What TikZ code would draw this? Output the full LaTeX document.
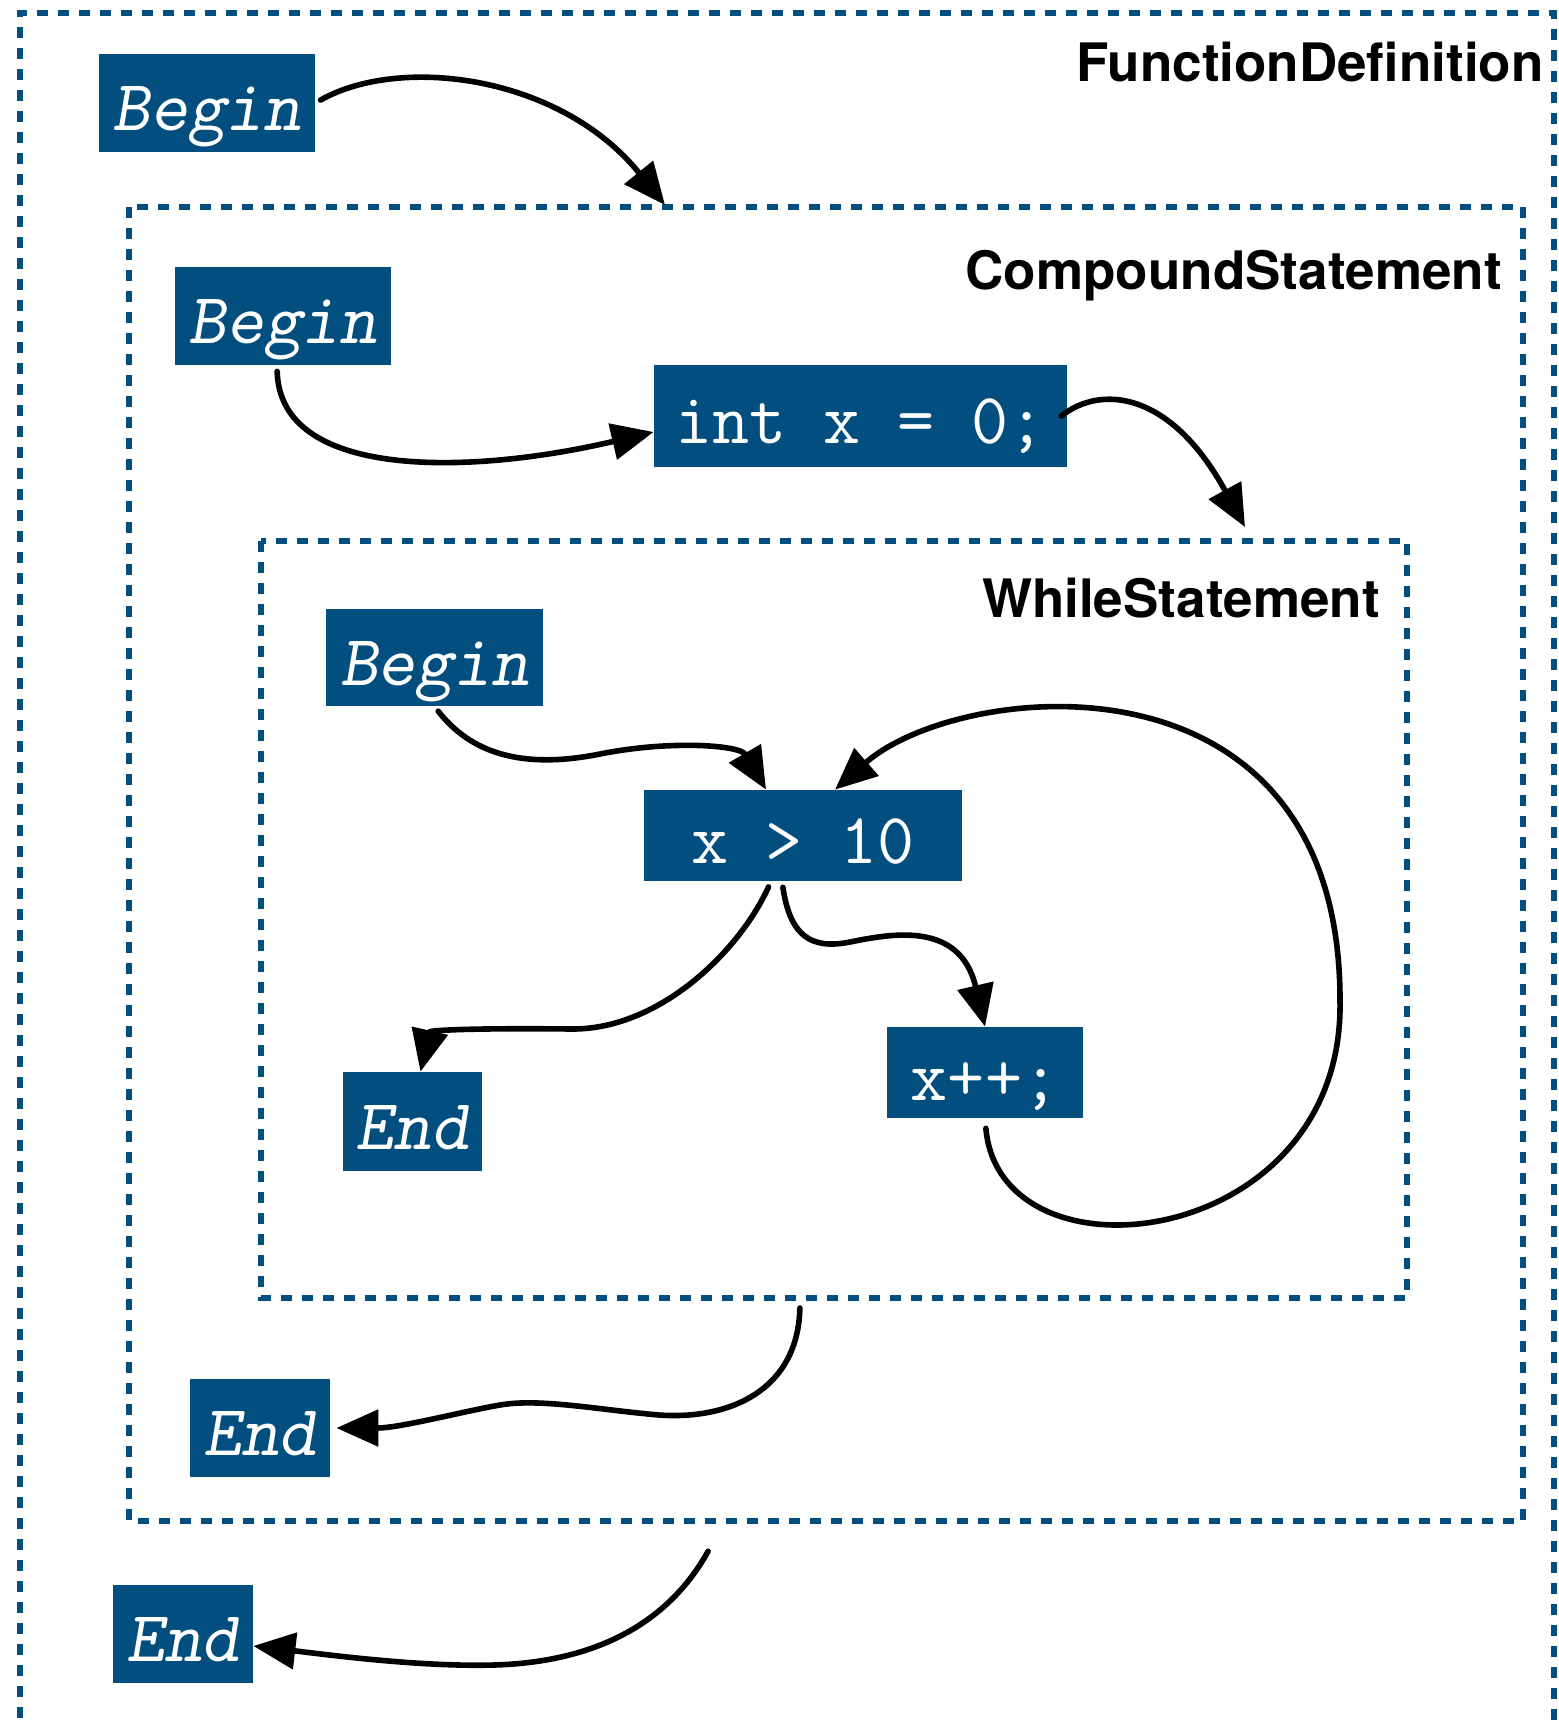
\documentclass[tikz,border=0pt]{standalone}
\usepackage{fontspec}
\setsansfont{TeX Gyre Heros}
\usetikzlibrary{arrows.meta}
\definecolor{astblue}{RGB}{2,79,127}

\tikzset{
  stmt/.style={fill=astblue, text=white, inner sep=0pt, text height=27.5pt, text depth=0pt,
    font=\ttfamily\fontsize{36}{40}\selectfont},
  term/.style={stmt, font=\ttfamily\slshape\fontsize{36}{40}\selectfont},
  scopebox/.style={draw=astblue, line width=2.75pt, dash pattern=on 5.5pt off 5pt},
  scopelabel/.style={anchor=base east, inner sep=0pt, font=\sffamily\bfseries\fontsize{26.5}{30}\selectfont},
  flow/.style={-{Triangle[length=21pt,width=18pt]}, line width=2.8pt, line cap=round, shorten <=3pt},
}

\begin{document}
\begin{tikzpicture}[x=0.5pt,y=-0.5pt]
  \useasboundingbox (0,0) rectangle (1558,1723);
  % scopes
  \draw[scopebox] (20,1760) -- (20,13) -- (1554,13) -- (1554,1760);
  \draw[scopebox] (129,207) rectangle (1523,1521);
  \draw[scopebox] (261,541) rectangle (1407,1298);
  \node[scopelabel] (fdl) at (1544,82) {FunctionDefinition};
  \node[scopelabel] (csl) at (1502,289) {CompoundStatement};
  \node[scopelabel] (wsl) at (1380,617) {WhileStatement};
  \coordinate (csin) at (665,205);
  \coordinate (wsin) at (1245,527);
  \coordinate (wsout) at (800,1302);
  \coordinate (csout) at (711,1546);
  % statements
  \node[term, minimum width=108pt, minimum height=49pt] (b1) at (207,103) {Begin};
  \node[term, minimum width=108pt, minimum height=49pt] (b2) at (283,316) {Begin};
  \node[stmt, minimum width=206.5pt, minimum height=51pt] (init) at (860.5,416) {int x = 0;};
  \node[term, minimum width=108.5pt, minimum height=48.5pt] (b3) at (434.5,657.5) {Begin};
  \node[stmt, minimum width=159pt, minimum height=45.5pt] (cond) at (803,835.5) {x > 10};
  \node[term, minimum width=69.5pt, minimum height=49.5pt] (endW) at (412.5,1121.5) {End};
  \node[stmt, minimum width=98pt, minimum height=45.5pt] (inc) at (985,1072.5) {x++;};
  \node[term, minimum width=70pt, minimum height=49pt] (endC) at (260,1428) {End};
  \node[term, minimum width=70pt, minimum height=49pt] (endF) at (183,1634) {End};
  % control flow
  \draw[flow] (b1.east) .. controls (400,55) and (560,75) .. (csin);
  \draw[flow] ([xshift=-3pt]b2.south) .. controls (280,480) and (470,475) .. ([yshift=-8pt]init.west);
  \draw[flow, shorten <=0pt] ([xshift=-3pt]init.east) .. controls (1100,385) and (1170,390) .. (wsin);
  \draw[flow] (b3.south) .. controls (470,752) and (520,770) .. (600,754)
    .. controls (670,740) and (740,745) .. ([xshift=-18.5pt]cond.north);
  \draw[flow, shorten <=5pt] (inc.south) .. controls (1000,1290) and (1345,1250) .. (1340,1000)
    .. controls (1340,640) and (960,680) .. ([xshift=16pt]cond.north);
  \draw[flow] ([xshift=-16pt]cond.south) .. controls (740,950) and (660,1030) .. (571,1029)
    .. controls (480,1028) and (430,1030) .. ([xshift=4pt]endW.north);
  \draw[flow] ([xshift=-10.5pt]cond.south) .. controls (790,935) and (810,950) .. (850,942)
    .. controls (890,934) and (960,920) .. (inc.north);
  \draw[flow] (wsout) .. controls (798,1390) and (730,1420) .. (659,1415)
    .. controls (600,1410) and (540,1398) .. (500,1405)
    .. controls (460,1412) and (400,1428) .. ([xshift=3pt]endC.east);
  \draw[flow] (csout) .. controls (670,1620) and (600,1662) .. (494,1665)
    .. controls (420,1667) and (330,1655) .. ([yshift=-6pt]endF.east);
\end{tikzpicture}
\end{document}
